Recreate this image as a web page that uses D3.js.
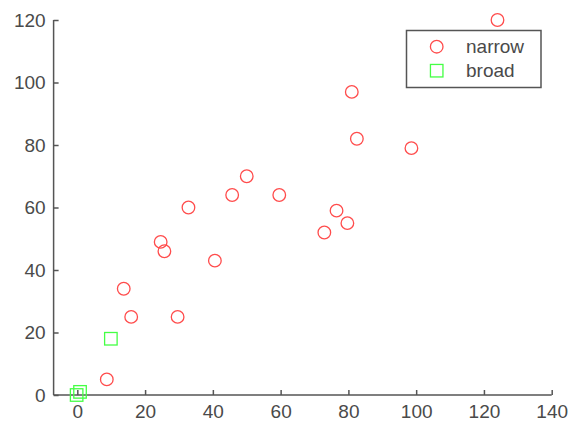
<!DOCTYPE html>
<html><head><meta charset="utf-8">
<script src="https://cdn.jsdelivr.net/npm/d3@7"></script>
<style>body{margin:0;background:#fff}svg{display:block}text{font-family:"Liberation Sans",Arial,sans-serif}</style>
</head><body><svg id="c" width="576" height="425"></svg>
<script>
const narrowX = [124, 81, 82.5, 98.6, 50, 45.7, 59.6, 32.8, 76.5, 79.7, 72.9, 24.6, 25.7, 40.6, 13.7, 15.9, 29.6, 8.7];
const narrowY = [120, 97, 82, 79, 70, 64, 64, 60, 59, 55, 52, 49, 46, 43, 34, 25, 25, 5];
const broadX = [9.9, 0.8, -0.2];
const broadY = [18, 1, 0];
const xTicks = [0, 20, 40, 60, 80, 100, 120, 140];
const yTicks = [0, 20, 40, 60, 80, 100, 120];
const seriesNames = ["narrow", "broad"];

const svg = d3.select("#c");
const axisCol = "#555";
const red = "#ff4c4c", green = "#44ff44";
const x = d3.scaleLinear().domain([-7, 140]).range([53.6, 551.7]);
const y = d3.scaleLinear().domain([0, 120]).range([395, 20]);

const xa = svg.append("g").attr("transform", `translate(0,${y(0)})`)
  .call(d3.axisBottom(x).tickValues(xTicks).tickSizeInner(-5).tickSizeOuter(0).tickPadding(10));
const ya = svg.append("g").attr("transform", `translate(${x(-7)},0)`)
  .call(d3.axisLeft(y).tickValues(yTicks).tickSizeInner(-5).tickSizeOuter(0).tickPadding(8));
[xa, ya].forEach(a => {
  a.select(".domain").attr("stroke", axisCol).attr("stroke-width", 1.5);
  a.selectAll(".tick line").attr("stroke", axisCol).attr("stroke-width", 1.5);
  a.selectAll(".tick text").attr("fill", "#4a4a4a").style("font-size", "19px");
});
ya.select(".domain").attr("d", `M0,${y(120)}V${y(0)}`);
xa.select(".domain").attr("d", `M0,0H${x(140)-x(-7)}`).attr("transform", `translate(${x(-7)},0)`);

const narrow = narrowX.map((v, i) => [v, narrowY[i]]);
const broad = broadX.map((v, i) => [v, broadY[i]]);

svg.append("g").selectAll("circle").data(narrow).join("circle")
  .attr("cx", d => x(d[0])).attr("cy", d => y(d[1])).attr("r", 6.3)
  .attr("fill", "none").attr("stroke", red).attr("stroke-width", 1.3);
const s = 12.5;
svg.append("g").selectAll("rect").data(broad).join("rect")
  .attr("x", d => x(d[0]) - s/2).attr("y", d => y(d[1]) - s/2).attr("width", s).attr("height", s)
  .attr("fill", "none").attr("stroke", green).attr("stroke-width", 1.3);

// legend
const lg = svg.append("g");
lg.append("rect").attr("x", 406.5).attr("y", 30.5).attr("width", 134.5).attr("height", 57)
  .attr("fill", "#fff").attr("stroke", axisCol).attr("stroke-width", 1.5);
lg.append("circle").attr("cx", 436.7).attr("cy", 46.7).attr("r", 6.3)
  .attr("fill", "none").attr("stroke", red).attr("stroke-width", 1.3);
lg.append("rect").attr("x", 436.7 - s/2).attr("y", 70.7 - s/2).attr("width", s).attr("height", s)
  .attr("fill", "none").attr("stroke", green).attr("stroke-width", 1.3);
lg.selectAll("text").data(seriesNames).join("text")
  .attr("x", 466).attr("y", (d, i) => 46.7 + i * 24).attr("dy", "0.35em")
  .attr("fill", "#4a4a4a").style("font-size", "19px").text(d => d);
</script></body></html>
